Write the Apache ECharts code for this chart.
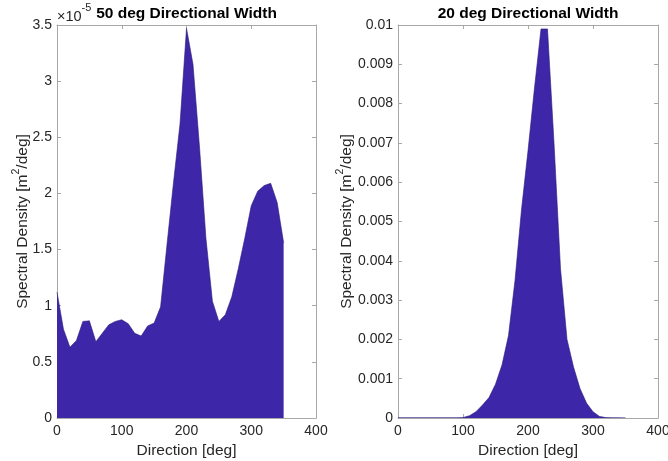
<!DOCTYPE html>
<html>
<head>
<meta charset="utf-8">
<script src="https://cdn.jsdelivr.net/npm/echarts@6/dist/echarts.min.js"></script>
<style>
  html, body { margin: 0; padding: 0; background: #fff; }
  #chart { width: 668px; height: 461px; }
</style>
</head>
<body>
<div id="chart"></div>
<script>
// Direction bins (deg) shared by both spectra
const directions = [0, 10, 20, 30, 40, 50, 60, 70, 80, 90, 100, 110, 120, 130, 140, 150, 160, 170,
                    180, 190, 200, 210, 220, 230, 240, 250, 260, 270, 280, 290, 300, 310, 320, 330, 340, 350];

// 50 deg directional width: spectral density in m^2/deg
const densityWide = [1.12e-5, 0.79e-5, 0.63e-5, 0.69e-5, 0.86e-5, 0.865e-5, 0.68e-5, 0.755e-5, 0.83e-5, 0.86e-5,
                     0.875e-5, 0.84e-5, 0.755e-5, 0.73e-5, 0.82e-5, 0.845e-5, 0.99e-5, 1.55e-5, 2.1e-5, 2.62e-5,
                     3.47e-5, 3.15e-5, 2.42e-5, 1.6e-5, 1.04e-5, 0.86e-5, 0.92e-5, 1.08e-5, 1.33e-5, 1.6e-5,
                     1.89e-5, 2.02e-5, 2.07e-5, 2.09e-5, 1.92e-5, 1.56e-5];

// 20 deg directional width: spectral density in m^2/deg
const densityNarrow = [0.000008, 0.000008, 0.000008, 0.000008, 0.000008, 0.000008, 0.000008, 0.000008, 0.000008, 0.000008,
                       0.00001, 0.00006, 0.00016, 0.00033, 0.00052, 0.00086, 0.00135, 0.0021, 0.0035, 0.0053,
                       0.0068, 0.0084, 0.0099, 0.0099, 0.0070, 0.0038, 0.0020, 0.0013, 0.00075, 0.00038,
                       0.00016, 0.00004, 0.00001, 0.000008, 0.000006, 0.000005];

const xTicks = { min: 0, max: 400, interval: 100 };
const yTicksWide = { min: 0, max: 3.5e-5, interval: 0.5e-5, exponent: -5 };
const yTicksNarrow = { min: 0, max: 0.01, interval: 0.001 };

const titles = ['50 deg Directional Width', '20 deg Directional Width'];
const xName = 'Direction [deg]';

const FONT = '"Liberation Sans", Arial, Helvetica, sans-serif';
const FILL = '#3e26a8';
const BOX = '#a8a8a8';
const TEXT = '#262626';

const chart = echarts.init(document.getElementById('chart'), null, { renderer: 'canvas' });

const grids = [
  { left: 57, top: 25, width: 259, height: 393, containLabel: false, outerBoundsMode: 'none' },
  { left: 398, top: 25, width: 260, height: 393, containLabel: false, outerBoundsMode: 'none' }
];

function xAxes(gridIndex) {
  const common = {
    type: 'value', gridIndex, min: xTicks.min, max: xTicks.max, interval: xTicks.interval,
    splitLine: { show: false },
    axisLine: { show: true, onZero: false, lineStyle: { color: BOX, width: 1 } },
    axisTick: { show: true, inside: true, length: 4, lineStyle: { color: BOX } }
  };
  return [
    Object.assign({}, common, {
      position: 'bottom',
      name: xName, nameLocation: 'middle', nameGap: 25,
      nameTextStyle: { fontFamily: FONT, fontSize: 15.5, color: TEXT },
      axisLabel: { fontFamily: FONT, fontSize: 14, color: TEXT, margin: 6 }
    }),
    Object.assign({}, common, { position: 'top', axisLabel: { show: false } })
  ];
}

function yAxes(gridIndex, ticks, formatter, nameGap) {
  const common = {
    type: 'value', gridIndex, min: ticks.min, max: ticks.max, interval: ticks.interval,
    splitLine: { show: false },
    axisLine: { show: true, onZero: false, lineStyle: { color: BOX, width: 1 } },
    axisTick: { show: true, inside: true, length: 4, lineStyle: { color: BOX } }
  };
  return [
    Object.assign({}, common, {
      position: 'left',
      name: '{n|Spectral Density [m}{s|2}{n|/deg]}',
      nameLocation: 'middle', nameGap, nameRotate: 90,
      nameMoveOverlap: false,
      nameTextStyle: {
        fontFamily: FONT, color: TEXT,
        rich: {
          n: { fontFamily: FONT, fontSize: 15.5, color: TEXT, verticalAlign: 'bottom', lineHeight: 20 },
          s: { fontFamily: FONT, fontSize: 10.5, color: TEXT, verticalAlign: 'top', lineHeight: 20 }
        }
      },
      axisLabel: { fontFamily: FONT, fontSize: 14, color: TEXT, margin: 5, formatter }
    }),
    Object.assign({}, common, { position: 'right', axisLabel: { show: false } })
  ];
}

const fmtWide = v => String(parseFloat((v / Math.pow(10, yTicksWide.exponent)).toFixed(2)));
const fmtNarrow = v => String(parseFloat(v.toFixed(4)));

function seriesFor(values, gridAxis) {
  return {
    type: 'line',
    xAxisIndex: gridAxis * 2,
    yAxisIndex: gridAxis * 2,
    data: directions.map((d, i) => [d, values[i]]),
    showSymbol: false,
    symbol: 'none',
    silent: true,
    lineStyle: { color: '#2a1a78', width: 0.6 },
    areaStyle: { color: FILL, opacity: 1 },
    z: 1
  };
}

// Titles are centred over each plot box
const titleGraphics = titles.map((t, i) => ({
  type: 'text',
  x: grids[i].left + grids[i].width / 2,
  y: 14,
  style: {
    text: t, fontFamily: FONT, fontSize: 15.5, fontWeight: 'bold', fill: '#000',
    align: 'center', verticalAlign: 'middle'
  }
}));

const option = {
  backgroundColor: '#ffffff',
  animation: false,
  grid: grids,
  xAxis: [...xAxes(0), ...xAxes(1)],
  yAxis: [...yAxes(0, yTicksWide, fmtWide, 26), ...yAxes(1, yTicksNarrow, fmtNarrow, 43)],
  series: [seriesFor(densityWide, 0), seriesFor(densityNarrow, 1)],
  graphic: [...titleGraphics, {
    type: 'text',
    left: 57,
    top: 2,
    style: {
      text: '{a|×10}{b|-5}',
      fontFamily: FONT,
      rich: {
        a: { fontFamily: FONT, fontSize: 14.5, fill: TEXT, verticalAlign: 'bottom', lineHeight: 22 },
        b: { fontFamily: FONT, fontSize: 11, fill: TEXT, verticalAlign: 'top', lineHeight: 22 }
      }
    }
  }]
};

chart.setOption(option);
</script>
</body>
</html>
